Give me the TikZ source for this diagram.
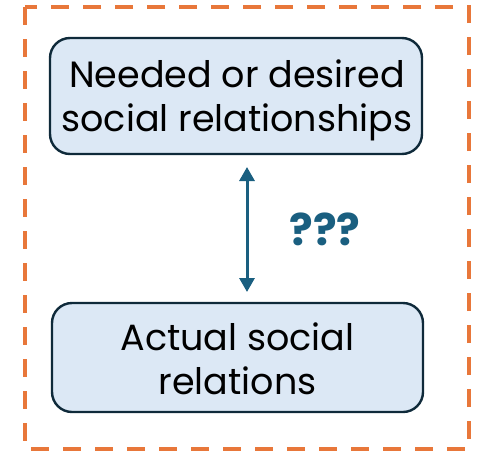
\documentclass[tikz,border=0pt]{standalone}
\usepackage{fontspec}
\setmainfont{Poppins}
\usetikzlibrary{arrows.meta}
\definecolor{dashorange}{HTML}{E8773A}
\definecolor{boxfill}{HTML}{DCE8F5}
\definecolor{boxline}{HTML}{0F2A3A}
\definecolor{arrowblue}{HTML}{1A5F80}
\tikzset{
  conceptbox/.style={draw=boxline, line width=2.4pt, fill=boxfill, rounded corners=20pt, inner sep=0pt},
  boxtext/.style={align=center, font=\fontsize{36.5}{44}\selectfont, inner sep=0pt},
}
\begin{document}
\begin{tikzpicture}[x=1pt,y=-1pt]
\useasboundingbox (0,0) rectangle (479,453);
\draw[dashorange, line width=4.5pt, dash pattern=on 18pt off 14pt] (25,7) rectangle (469,449);
\node[conceptbox, minimum width=372pt, minimum height=116pt] (need) at (236,96) {};
\node[boxtext] (needtext) at (237,100) {Needed or desired\\social relationships};
\node[conceptbox, minimum width=371pt, minimum height=109pt] (act) at (237.5,357.5) {};
\node[boxtext] (acttext) at (237.5,359) {Actual social\\relations};
\coordinate (atop) at (247,167);
\coordinate (abot) at (247,292);
\draw[arrowblue, line width=3pt, {Triangle[length=14pt,width=15pt]}-{Triangle[length=14pt,width=15pt]}] (atop) -- (abot);
\node[text=arrowblue, font=\fontsize{44}{50}\selectfont\bfseries] (q) at (325,229) {???};
\end{tikzpicture}
\end{document}
